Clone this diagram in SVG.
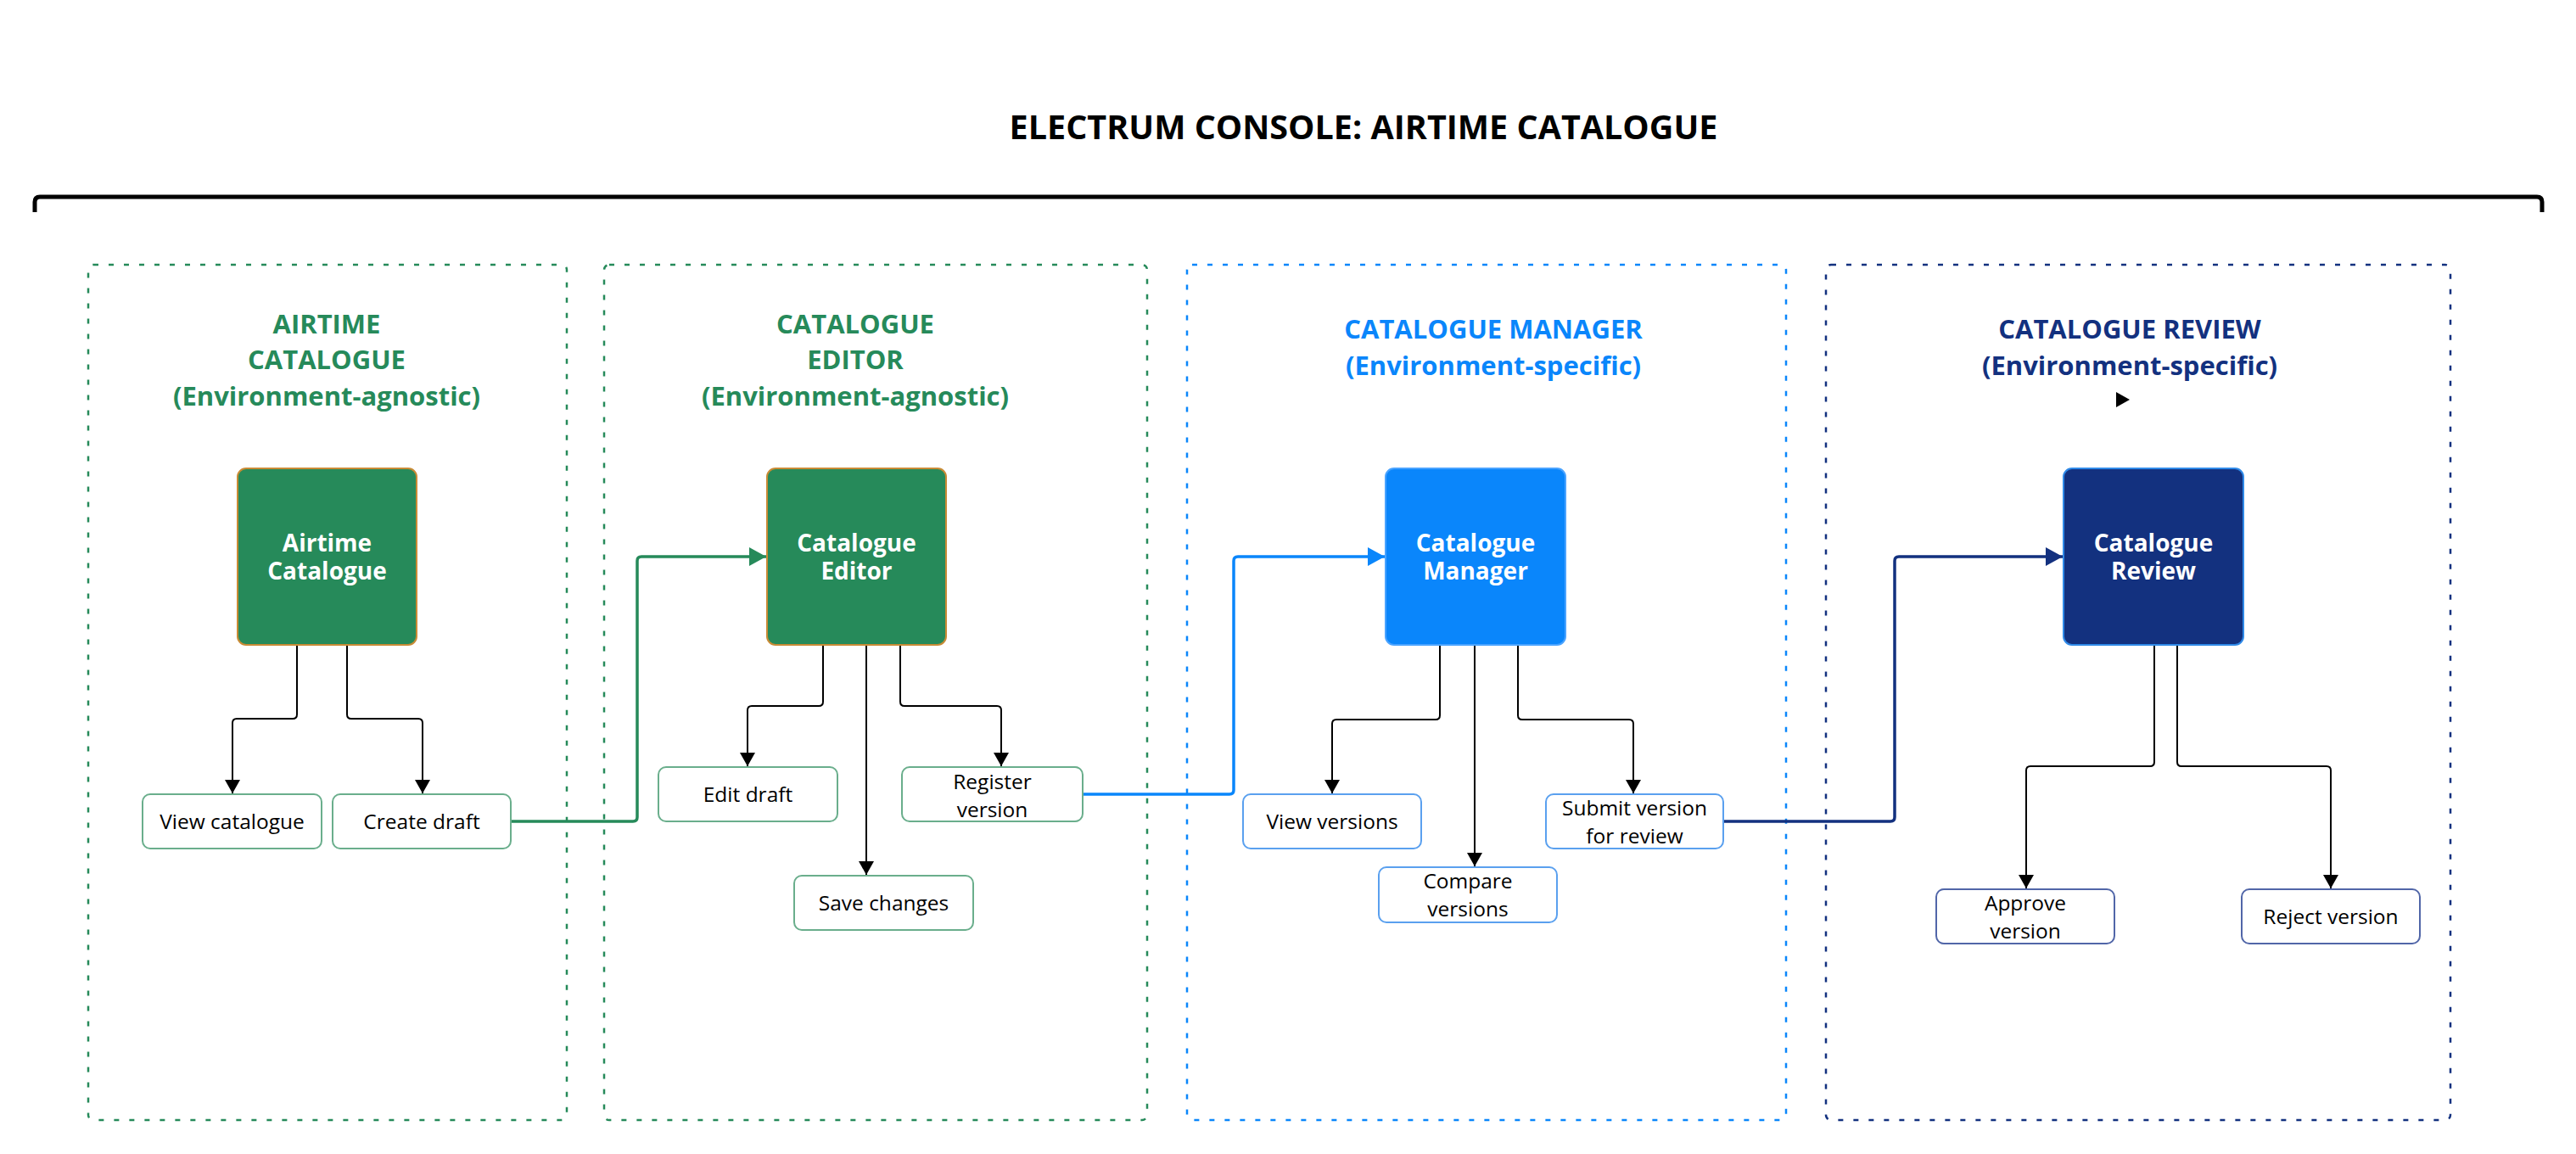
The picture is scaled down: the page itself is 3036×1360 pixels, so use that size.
<svg xmlns="http://www.w3.org/2000/svg" width="3036" height="1360" viewBox="0 0 3036 1360">
  <defs>
    <style>
      text { font-family: "Open Sans", "Noto Sans", "Liberation Sans", sans-serif; }
      .title { font-size: 39.5px; font-weight: 700; fill: #000; text-anchor: middle; }
      .sec { fill: none; stroke-width: 2.5; stroke-dasharray: 6 12; }
      .sech { font-size: 31px; font-weight: 700; text-anchor: middle; }
      .main { stroke-width: 2; }
      .maint { font-size: 28px; font-weight: 700; fill: #fff; text-anchor: middle; }
      .sub { fill: #fff; stroke-width: 2; }
      .subt { font-size: 24.5px; fill: #000; text-anchor: middle; }
      .blk { fill: none; stroke: #000; stroke-width: 2; }
    </style>
    <marker id="ah" markerUnits="userSpaceOnUse" markerWidth="18" markerHeight="20" refX="16" refY="9" orient="auto">
      <path d="M0,0 L16,9 L0,18 Z" fill="#000"/>
    </marker>
    <marker id="ahg" markerUnits="userSpaceOnUse" markerWidth="22" markerHeight="24" refX="20" refY="11" orient="auto">
      <path d="M0,0 L20,11 L0,22 Z" fill="#268a5a"/>
    </marker>
    <marker id="ahb" markerUnits="userSpaceOnUse" markerWidth="22" markerHeight="24" refX="20" refY="11" orient="auto">
      <path d="M0,0 L20,11 L0,22 Z" fill="#0a86fb"/>
    </marker>
    <marker id="ahn" markerUnits="userSpaceOnUse" markerWidth="22" markerHeight="24" refX="20" refY="11" orient="auto">
      <path d="M0,0 L20,11 L0,22 Z" fill="#13317f"/>
    </marker>
  </defs>
  <rect width="3036" height="1360" fill="#fff"/>

  <g id="header">
    <text class="title" x="1607" y="164">ELECTRUM CONSOLE: AIRTIME CATALOGUE</text>
    <path d="M41 250 V238 Q41 232 47 232 H2990 Q2996 232 2996 238 V250" fill="none" stroke="#000" stroke-width="5"/>
  </g>

  <g id="section-airtime">
    <rect class="sec" x="104" y="312" width="564" height="1008" rx="6" stroke="#268a5a"/>
    <text class="sech" fill="#268a5a" x="385" y="393">AIRTIME</text>
    <text class="sech" fill="#268a5a" x="385" y="435">CATALOGUE</text>
    <text class="sech" fill="#268a5a" x="385" y="478">(Environment-agnostic)</text>
  </g>
  <g id="section-editor">
    <rect class="sec" x="712" y="312" width="640" height="1008" rx="6" stroke="#268a5a"/>
    <text class="sech" fill="#268a5a" x="1008" y="393">CATALOGUE</text>
    <text class="sech" fill="#268a5a" x="1008" y="435">EDITOR</text>
    <text class="sech" fill="#268a5a" x="1008" y="478">(Environment-agnostic)</text>
  </g>
  <g id="section-manager">
    <rect class="sec" x="1399" y="312" width="706" height="1008" rx="6" stroke="#0a86fb"/>
    <text class="sech" fill="#0a86fb" x="1760" y="399">CATALOGUE MANAGER</text>
    <text class="sech" fill="#0a86fb" x="1760" y="442">(Environment-specific)</text>
  </g>
  <g id="section-review">
    <rect class="sec" x="2152" y="312" width="736" height="1008" rx="6" stroke="#13317f"/>
    <text class="sech" fill="#13317f" x="2510" y="399">CATALOGUE REVIEW</text>
    <text class="sech" fill="#13317f" x="2510" y="442">(Environment-specific)</text>
    <path d="M2494 462 L2510 471 L2494 480 Z" fill="#000"/>
  </g>

  <g id="connectors">
    <path class="blk" d="M350 760 V842 Q350 847 345 847 H279 Q274 847 274 852 V935" marker-end="url(#ah)"/>
    <path class="blk" d="M409 760 V842 Q409 847 414 847 H493 Q498 847 498 852 V935" marker-end="url(#ah)"/>
    <path d="M602 968 H746 Q751 968 751 963 V661 Q751 656 756 656 H903" fill="none" stroke="#268a5a" stroke-width="3.5" marker-end="url(#ahg)"/>
    <path class="blk" d="M970 760 V827 Q970 832 965 832 H886 Q881 832 881 837 V903" marker-end="url(#ah)"/>
    <path class="blk" d="M1021 760 V1031" marker-end="url(#ah)"/>
    <path class="blk" d="M1061 760 V827 Q1061 832 1066 832 H1175 Q1180 832 1180 837 V903" marker-end="url(#ah)"/>
    <path d="M1276 936 H1449 Q1454 936 1454 931 V661 Q1454 656 1459 656 H1632" fill="none" stroke="#0a86fb" stroke-width="3.5" marker-end="url(#ahb)"/>
    <path class="blk" d="M1697 760 V843 Q1697 848 1692 848 H1575 Q1570 848 1570 853 V935" marker-end="url(#ah)"/>
    <path class="blk" d="M1738 760 V1021" marker-end="url(#ah)"/>
    <path class="blk" d="M1789 760 V843 Q1789 848 1794 848 H1920 Q1925 848 1925 853 V935" marker-end="url(#ah)"/>
    <path d="M2031 968 H2228 Q2233 968 2233 963 V661 Q2233 656 2238 656 H2431" fill="none" stroke="#13317f" stroke-width="3.5" marker-end="url(#ahn)"/>
    <path class="blk" d="M2539 760 V898 Q2539 903 2534 903 H2393 Q2388 903 2388 908 V1047" marker-end="url(#ah)"/>
    <path class="blk" d="M2566 760 V898 Q2566 903 2571 903 H2742 Q2747 903 2747 908 V1047" marker-end="url(#ah)"/>
  </g>

  <g id="airtime-catalogue">
    <rect class="main" x="280" y="552" width="211" height="208" rx="10" fill="#268a5a" stroke="#c98b35"/>
    <text class="maint" x="385.5" y="650">Airtime</text>
    <text class="maint" x="385.5" y="683">Catalogue</text>
  </g>
  <g id="catalogue-editor">
    <rect class="main" x="904" y="552" width="211" height="208" rx="10" fill="#268a5a" stroke="#c98b35"/>
    <text class="maint" x="1009.5" y="650">Catalogue</text>
    <text class="maint" x="1009.5" y="683">Editor</text>
  </g>
  <g id="catalogue-manager">
    <rect class="main" x="1633" y="552" width="212" height="208" rx="10" fill="#0a86fb" stroke="#4aa3ff"/>
    <text class="maint" x="1739" y="650">Catalogue</text>
    <text class="maint" x="1739" y="683">Manager</text>
  </g>
  <g id="catalogue-review">
    <rect class="main" x="2432" y="552" width="212" height="208" rx="10" fill="#13317f" stroke="#2f8ae8"/>
    <text class="maint" x="2538" y="650">Catalogue</text>
    <text class="maint" x="2538" y="683">Review</text>
  </g>

  <g id="view-catalogue">
    <rect class="sub" x="168" y="936" width="211" height="64" rx="9" stroke="#6aae8c"/>
    <text class="subt" x="273.5" y="976.5">View catalogue</text>
  </g>
  <g id="create-draft">
    <rect class="sub" x="392" y="936" width="210" height="64" rx="9" stroke="#6aae8c"/>
    <text class="subt" x="497" y="976.5">Create draft</text>
  </g>
  <g id="edit-draft">
    <rect class="sub" x="776" y="904" width="211" height="64" rx="9" stroke="#6aae8c"/>
    <text class="subt" x="881.5" y="944.5">Edit draft</text>
  </g>
  <g id="save-changes">
    <rect class="sub" x="936" y="1032" width="211" height="64" rx="9" stroke="#6aae8c"/>
    <text class="subt" x="1041.5" y="1072.5">Save changes</text>
  </g>
  <g id="register-version">
    <rect class="sub" x="1063" y="904" width="213" height="64" rx="9" stroke="#6aae8c"/>
    <text class="subt" x="1169.5" y="930">Register</text>
    <text class="subt" x="1169.5" y="962.5">version</text>
  </g>
  <g id="view-versions">
    <rect class="sub" x="1465" y="936" width="210" height="64" rx="9" stroke="#5aa0ef"/>
    <text class="subt" x="1570" y="976.5">View versions</text>
  </g>
  <g id="compare-versions">
    <rect class="sub" x="1625" y="1022" width="210" height="65" rx="9" stroke="#5aa0ef"/>
    <text class="subt" x="1730" y="1047">Compare</text>
    <text class="subt" x="1730" y="1079.5">versions</text>
  </g>
  <g id="submit-version">
    <rect class="sub" x="1822" y="936" width="209" height="64" rx="9" stroke="#5aa0ef"/>
    <text class="subt" x="1926.5" y="961">Submit version</text>
    <text class="subt" x="1926.5" y="993.5">for review</text>
  </g>
  <g id="approve-version">
    <rect class="sub" x="2282" y="1048" width="210" height="64" rx="9" stroke="#5166a8"/>
    <text class="subt" x="2387" y="1073">Approve</text>
    <text class="subt" x="2387" y="1105.5">version</text>
  </g>
  <g id="reject-version">
    <rect class="sub" x="2642" y="1048" width="210" height="64" rx="9" stroke="#5166a8"/>
    <text class="subt" x="2747" y="1088.5">Reject version</text>
  </g>
</svg>
